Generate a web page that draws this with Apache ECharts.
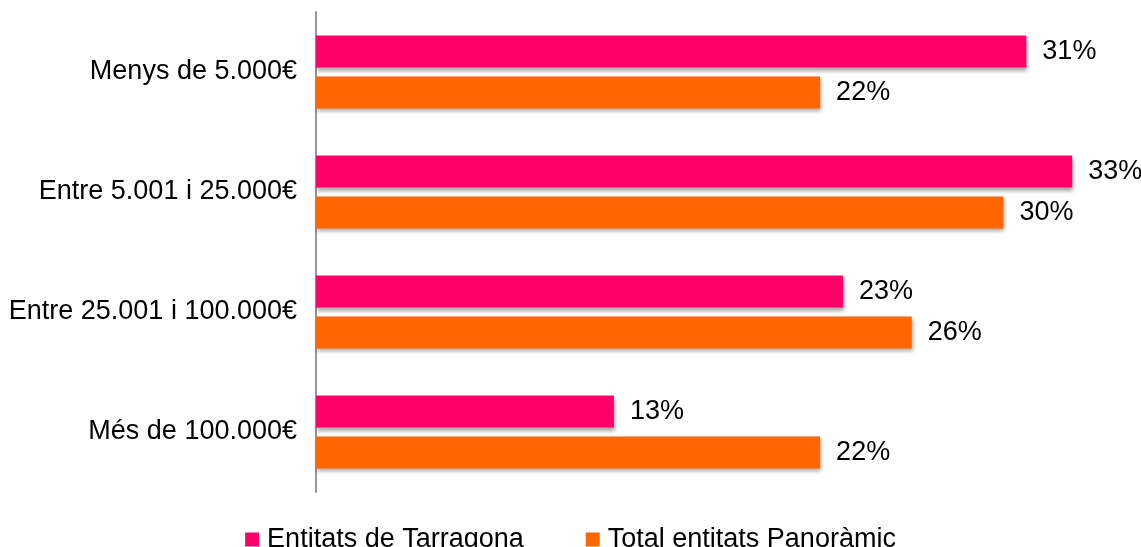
<!DOCTYPE html>
<html>
<head>
<meta charset="utf-8">
<script src="https://cdn.jsdelivr.net/npm/echarts@6/dist/echarts.min.js"></script>
<style>html,body{margin:0;padding:0;background:#fff;}#c{width:1141px;height:547px;}</style>
</head>
<body>
<div id="c"></div>
<script>
const categories = ['Menys de 5.000€', 'Entre 5.001 i 25.000€', 'Entre 25.001 i 100.000€', 'Més de 100.000€'];
const seriesNames = ['Entitats de Tarragona', 'Total entitats Panoràmic'];
const tarragona = [31, 33, 23, 13];
const panoramic = [22, 30, 26, 22];

const chart = echarts.init(document.getElementById('c'));
const font = 'Liberation Sans, Arial, sans-serif';
const labelCfg = {show: true, position: 'right', distance: 16, color: '#000', fontSize: 27, fontFamily: font, formatter: '{c}%'};
const shadow = {shadowColor: 'rgba(0,0,0,0.35)', shadowBlur: 4, shadowOffsetX: 1, shadowOffsetY: 3};
chart.setOption({
  animation: false,
  grid: {left: 316, right: 23, top: 12, bottom: 55, containLabel: false},
  xAxis: {type: 'value', min: 0, max: 35, show: false},
  yAxis: {
    type: 'category', data: categories, inverse: true,
    axisLine: {show: true, lineStyle: {color: '#999', width: 2}},
    axisTick: {show: false},
    axisLabel: {color: '#000', fontSize: 27, fontFamily: font, margin: 19},
    splitLine: {show: false}
  },
  legend: {
    top: 521, left: 'center', itemWidth: 14, itemHeight: 14, itemGap: 62, icon: 'rect',
    textStyle: {color: '#000', fontSize: 27, fontFamily: font, padding: [0, 0, 0, 3]},
    data: seriesNames
  },
  series: [
    {name: seriesNames[0], type: 'bar', data: tarragona, barWidth: 32, barGap: '28%',
     itemStyle: Object.assign({color: '#FF0066'}, shadow), label: labelCfg},
    {name: seriesNames[1], type: 'bar', data: panoramic, barWidth: 32, barGap: '28%',
     itemStyle: Object.assign({color: '#FF6600'}, shadow), label: labelCfg}
  ]
});
</script>
</body>
</html>
